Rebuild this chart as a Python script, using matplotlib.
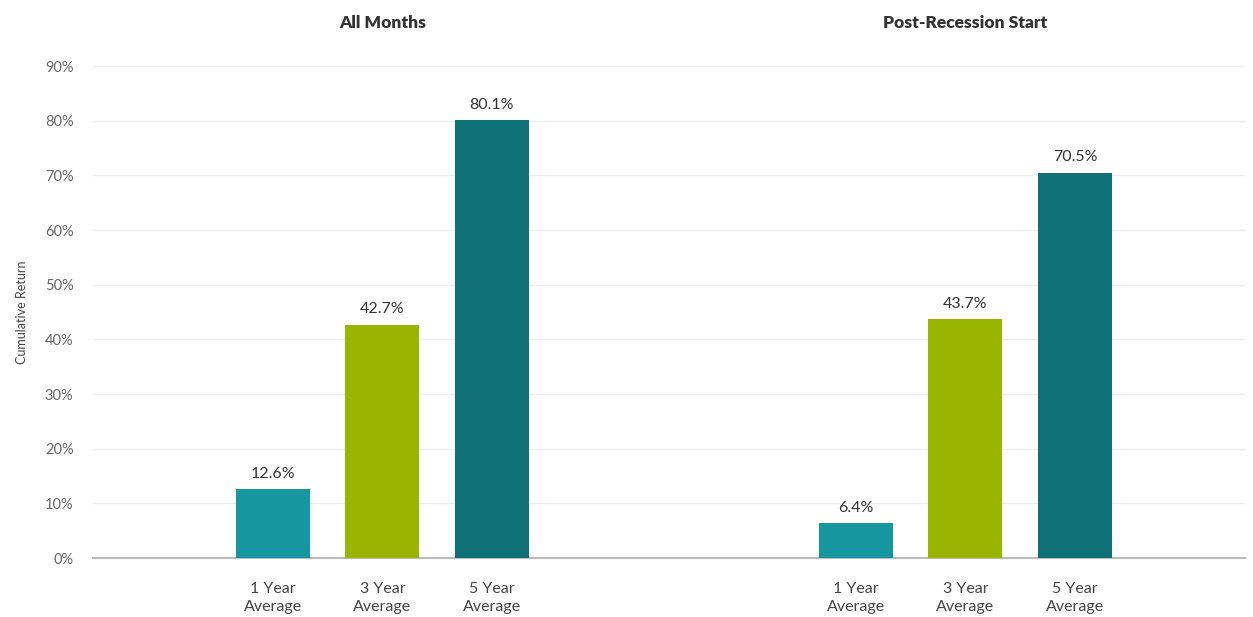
import numpy as np
import matplotlib.pyplot as plt
from matplotlib.transforms import blended_transform_factory

# Average cumulative returns (%)
groups = ["All Months", "Post-Recession Start"]
periods = ["1 Year\nAverage", "3 Year\nAverage", "5 Year\nAverage"]
all_months = [12.6, 42.7, 80.1]
post_recession = [6.4, 43.7, 70.5]
yticks = [0, 10, 20, 30, 40, 50, 60, 70, 80, 90]

colors = ["#16969f", "#9ab500", "#0f7076"]

plt.rcParams["font.family"] = ["Lato", "DejaVu Sans"]

fig = plt.figure(figsize=(12.53, 6.17), dpi=100)
ax = fig.add_axes([0.0742, 0.0956, 0.9194, 0.7974])

# two groups of three bars, second group shifted right
base = np.arange(3)
offset = 5.324
width = 0.676
x1 = base
x2 = base + offset

b1 = ax.bar(x1, all_months, width, color=colors, zorder=3)
b2 = ax.bar(x2, post_recession, width, color=colors, zorder=3)

for bars, vals in ((b1, all_months), (b2, post_recession)):
    for rect, v in zip(bars, vals):
        ax.annotate(f"{v:.1f}%", (rect.get_x() + rect.get_width() / 2, v),
                    xytext=(0, 6), textcoords="offset points",
                    ha="center", va="bottom", fontsize=11.5, color="#333333")

ax.set_xlim(-1.644, 8.877)
ax.set_ylim(0, 90)
ax.set_yticks(yticks)
ax.set_yticklabels([f"{t}%" for t in yticks])
ax.set_xticks(np.concatenate([x1, x2]))
ax.set_xticklabels(periods * 2, linespacing=1.4)

ax.tick_params(axis="y", length=0, pad=14, labelsize=10.5, labelcolor="#666666")
ax.tick_params(axis="x", length=0, pad=17, labelsize=11.5, labelcolor="#444444")

ax.grid(axis="y", color="#eeeeee", lw=1, zorder=0)
for s in ("top", "right", "left"):
    ax.spines[s].set_visible(False)
ax.spines["bottom"].set_color("#bbbbbb")
ax.spines["bottom"].set_linewidth(1.5)

ax.set_ylabel("Cumulative Return", fontsize=9, color="#444444", labelpad=12)

# panel titles above each group
trans = blended_transform_factory(ax.transData, fig.transFigure)
for name, xs in zip(groups, (x1, x2)):
    ax.text(xs.mean(), 1 - 23 / 617, name, transform=trans, ha="center", va="center",
            fontsize=12.5, fontweight="heavy", color="#333333")

fig.savefig("out.png", dpi=100)
